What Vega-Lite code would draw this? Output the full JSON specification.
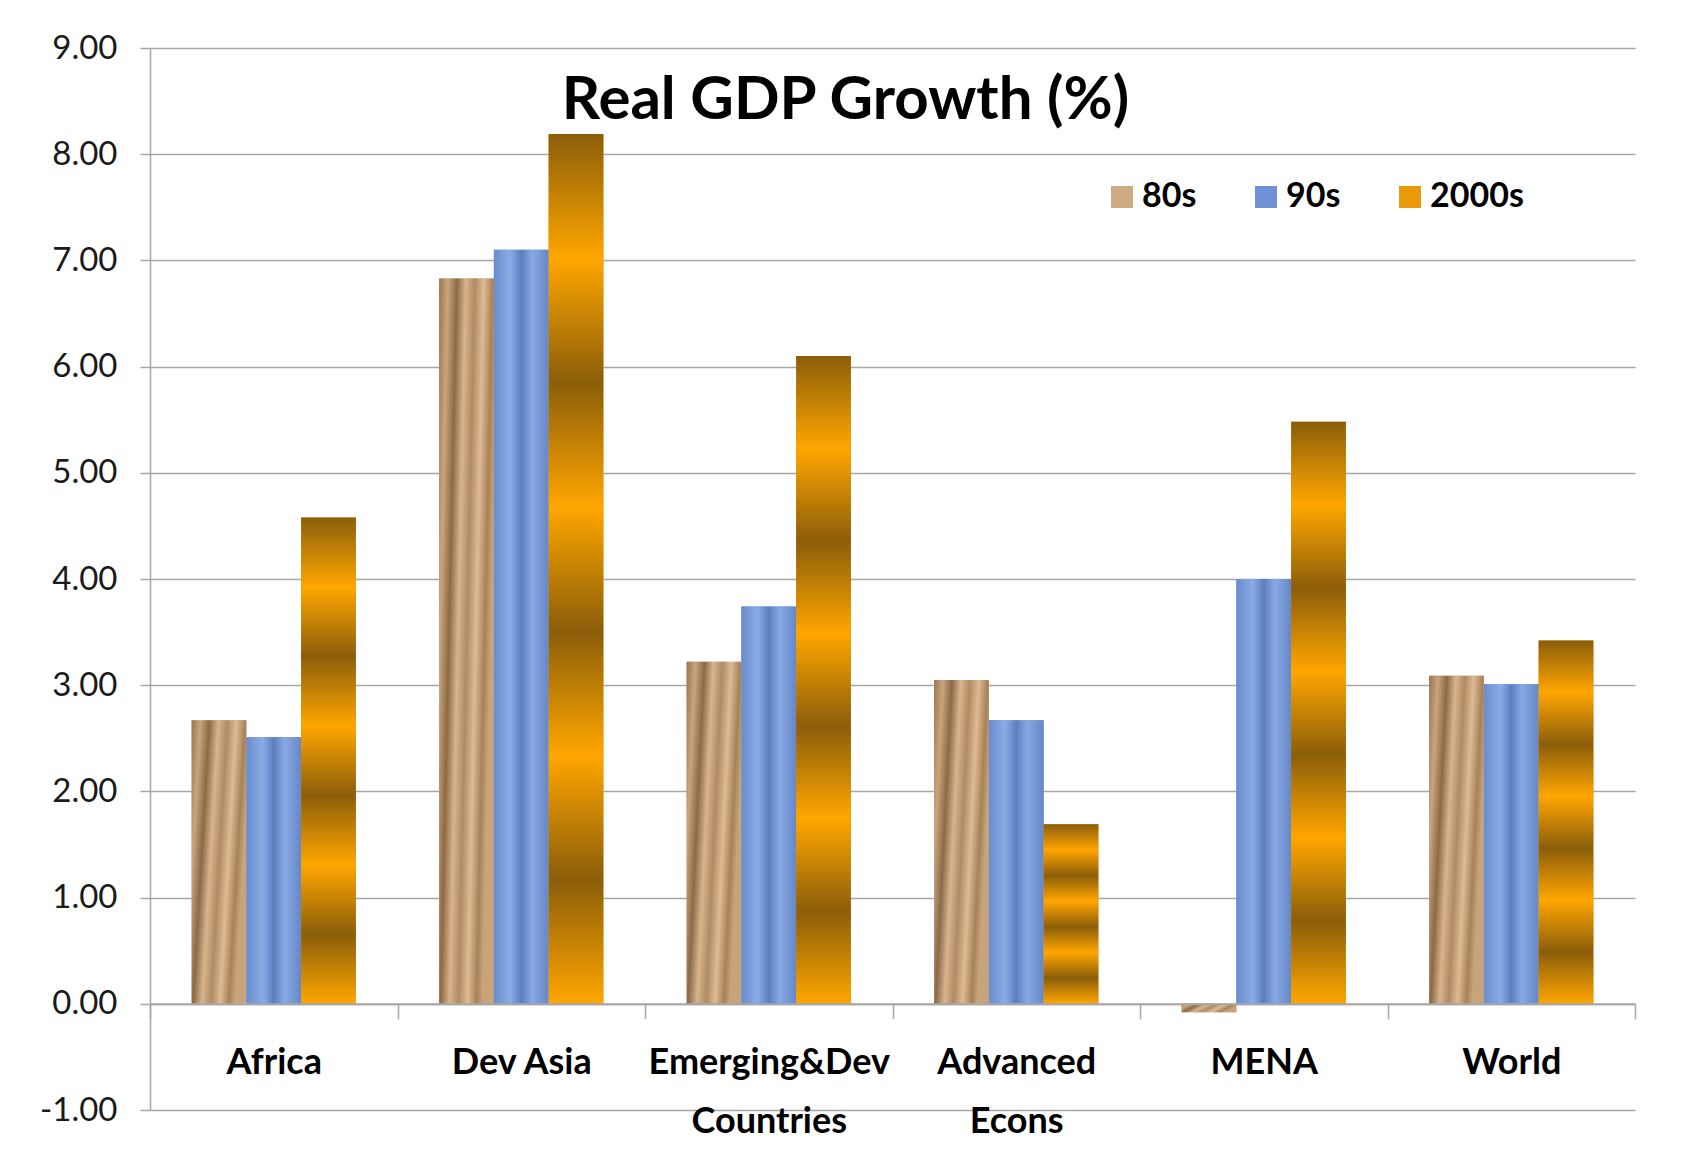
{
  "$schema": "https://vega.github.io/schema/vega-lite/v6.json",
  "width": 1485,
  "height": 1062,
  "autosize": {"type": "none"},
  "padding": {"left": 150, "top": 48, "right": 49, "bottom": 52},
  "background": "white",
  "config": {"view": {"stroke": null}, "font": "Lato"},
  "title": {
    "text": "Real GDP Growth (%)",
    "font": "Lato",
    "fontSize": 60,
    "fontWeight": "bold",
    "color": "black",
    "anchor": "middle",
    "dx": -47,
    "dy": 147,
    "offset": 0,
    "baseline": "alphabetic"
  },
  "data": {
    "values": [
      {"region": "Africa", "decade": "80s", "value": 2.67},
      {"region": "Africa", "decade": "90s", "value": 2.51},
      {"region": "Africa", "decade": "2000s", "value": 4.58},
      {"region": "Dev Asia", "decade": "80s", "value": 6.83},
      {"region": "Dev Asia", "decade": "90s", "value": 7.1},
      {"region": "Dev Asia", "decade": "2000s", "value": 8.19},
      {"region": "Emerging&Dev Countries", "decade": "80s", "value": 3.22},
      {"region": "Emerging&Dev Countries", "decade": "90s", "value": 3.74},
      {"region": "Emerging&Dev Countries", "decade": "2000s", "value": 6.1},
      {"region": "Advanced Econs", "decade": "80s", "value": 3.05},
      {"region": "Advanced Econs", "decade": "90s", "value": 2.67},
      {"region": "Advanced Econs", "decade": "2000s", "value": 1.69},
      {"region": "MENA", "decade": "80s", "value": -0.08},
      {"region": "MENA", "decade": "90s", "value": 4.0},
      {"region": "MENA", "decade": "2000s", "value": 5.48},
      {"region": "World", "decade": "80s", "value": 3.09},
      {"region": "World", "decade": "90s", "value": 3.01},
      {"region": "World", "decade": "2000s", "value": 3.42}
    ]
  },
  "encoding": {
    "x": {
      "field": "region",
      "type": "nominal",
      "sort": ["Africa", "Dev Asia", "Emerging&Dev Countries", "Advanced Econs", "MENA", "World"],
      "scale": {"paddingInner": 0, "paddingOuter": 0},
      "axis": {
        "title": null,
        "orient": "bottom",
        "offset": -106.2,
        "tickBand": "extent",
        "labelAngle": 0,
        "domainColor": "#A6A6A6",
        "domainWidth": 2,
        "tickColor": "#A6A6A6",
        "tickSize": 15,
        "tickWidth": 1.5,
        "labelFont": "Lato",
        "labelFontSize": 36,
        "labelFontWeight": "bold",
        "labelColor": "black",
        "labelPadding": 27,
        "labelLineHeight": 59,
        "labelLimit": 500,
        "labelExpr": "datum.label == 'Emerging&Dev Countries' ? ['Emerging&Dev','Countries'] : datum.label == 'Advanced Econs' ? ['Advanced','Econs'] : datum.label",
        "zindex": 1
      }
    },
    "xOffset": {
      "field": "decade",
      "type": "nominal",
      "sort": ["80s", "90s", "2000s"],
      "scale": {"domain": ["80s", "90s", "2000s"], "paddingInner": 0, "paddingOuter": 0.76}
    },
    "y": {
      "field": "value",
      "type": "quantitative",
      "scale": {"domain": [-1, 9], "nice": false, "zero": false},
      "axis": {
        "title": null,
        "values": [-1, 0, 1, 2, 3, 4, 5, 6, 7, 8, 9],
        "format": ".2f",
        "labelExpr": "replace(datum.label, '\u2212', '-')",
        "grid": true,
        "gridColor": "#A6A6A6",
        "gridWidth": 1.5,
        "domainColor": "#A6A6A6",
        "domainWidth": 1.5,
        "tickColor": "#A6A6A6",
        "tickSize": 10,
        "tickWidth": 1.5,
        "labelFont": "Lato",
        "labelFontSize": 33,
        "labelColor": "#1a1a1a",
        "labelPadding": 23
      }
    }
  },
  "layer": [
    {
      "mark": {"type": "bar"},
      "encoding": {
        "color": {
          "field": "decade",
          "type": "nominal",
          "sort": ["80s", "90s", "2000s"],
          "scale": {"domain": ["80s", "90s", "2000s"], "range": ["#CFAB82", "#6F92D6", "#E89A0A"]},
          "legend": {
            "title": null,
            "orient": "none",
            "legendX": 955,
            "legendY": 132,
            "direction": "horizontal",
            "symbolType": "square",
            "symbolSize": 484,
            "symbolStrokeWidth": 0,
            "labelFont": "Lato",
            "labelFontSize": 34,
            "labelFontWeight": "bold",
            "labelColor": "black",
            "columnPadding": 52,
            "labelOffset": 3,
            "padding": 0
          }
        }
      }
    },
    {
      "transform": [{"filter": "datum.decade === '80s'"}],
      "mark": {
        "type": "bar",
        "color": {
          "gradient": "linear",
          "x1": 0, "y1": 0, "x2": 1, "y2": 0.3,
          "stops": [
            {"offset": 0, "color": "#9A7550"},
            {"offset": 0.15, "color": "#C9A57D"},
            {"offset": 0.3, "color": "#8C6A46"},
            {"offset": 0.45, "color": "#D8B58E"},
            {"offset": 0.6, "color": "#B08A62"},
            {"offset": 0.75, "color": "#DDBB95"},
            {"offset": 0.9, "color": "#A88158"},
            {"offset": 1, "color": "#C8A47A"}
          ]
        }
      }
    },
    {
      "transform": [{"filter": "datum.decade === '90s'"}],
      "mark": {
        "type": "bar",
        "color": {
          "gradient": "linear",
          "x1": 0, "y1": 0, "x2": 1, "y2": 0,
          "stops": [
            {"offset": 0, "color": "#6A8CCB"},
            {"offset": 0.3, "color": "#8AACE6"},
            {"offset": 0.5, "color": "#5C7EC0"},
            {"offset": 0.7, "color": "#88A9E3"},
            {"offset": 1, "color": "#6587C8"}
          ]
        }
      }
    },
    {
      "transform": [{"filter": "datum.decade === '2000s'"}],
      "mark": {
        "type": "bar",
        "color": {
          "gradient": "linear",
          "x1": 0, "y1": 0, "x2": 0, "y2": 1,
          "stops": [
            {"offset": 0, "color": "#8B5E0A"},
            {"offset": 0.1429, "color": "#FFA600"},
            {"offset": 0.2857, "color": "#8B5E0A"},
            {"offset": 0.4286, "color": "#FFA600"},
            {"offset": 0.5714, "color": "#8B5E0A"},
            {"offset": 0.7143, "color": "#FFA600"},
            {"offset": 0.8571, "color": "#8B5E0A"},
            {"offset": 1, "color": "#FFA600"}
          ]
        }
      }
    }
  ]
}
